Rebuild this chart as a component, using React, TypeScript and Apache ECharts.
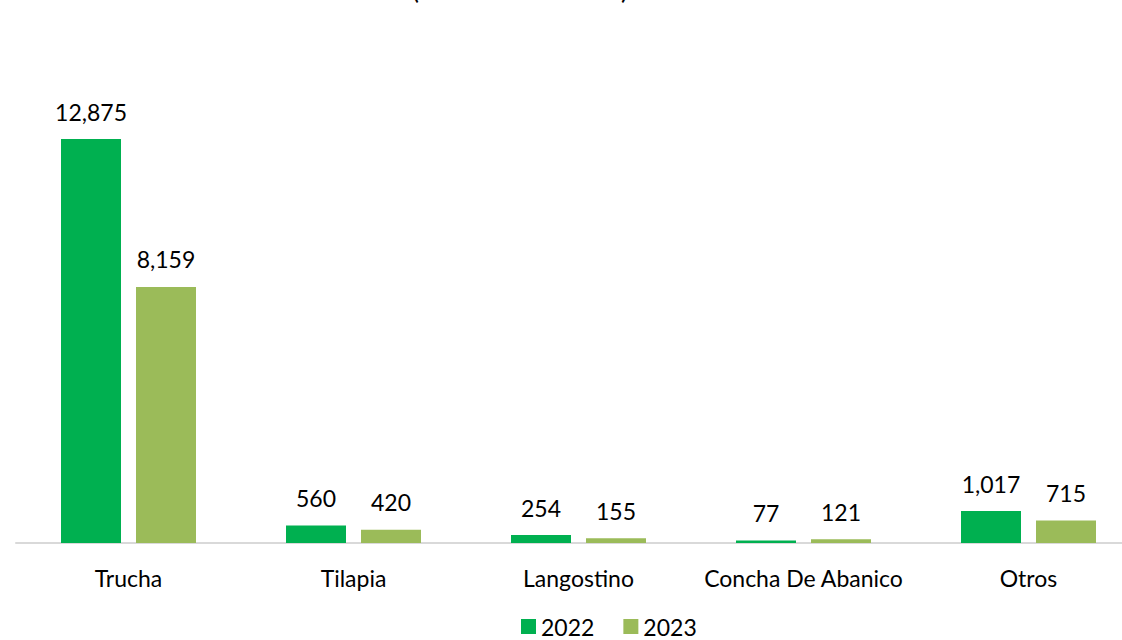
import React, { useEffect, useRef } from "react";
import * as echarts from "echarts";

const categories = ["Trucha", "Tilapia", "Langostino", "Concha De Abanico", "Otros"];
const values2022 = [12875, 560, 254, 77, 1017];
const values2023 = [8159, 420, 155, 121, 715];
const seriesNames = ["2022", "2023"];

const FONT = "Lato, 'Open Sans', sans-serif";

export default function App() {
  const ref = useRef<HTMLDivElement>(null);
  useEffect(() => {
    const chart = echarts.init(ref.current!, null, { renderer: "svg" });
    const label = {
      show: true,
      position: "top",
      distance: 16,
      color: "#000",
      fontSize: 23,
      fontFamily: FONT,
      formatter: (p: any) => Number(p.value).toLocaleString("en-US"),
    };
    chart.setOption({
      animation: false,
      backgroundColor: "#fff",
      grid: { left: 16, top: 103.7, width: 1125, height: 439.3, containLabel: false },
      legend: {
        top: 610,
        left: 516,
        itemWidth: 15,
        itemHeight: 15,
        itemGap: 29,
        icon: "rect",
        textStyle: { fontSize: 23, fontFamily: FONT, color: "#000" },
        data: seriesNames,
      },
      xAxis: {
        type: "category",
        data: categories,
        axisLine: { lineStyle: { color: "#d9d9d9", width: 2 } },
        axisTick: { show: false },
        axisLabel: { color: "#000", fontSize: 23, fontFamily: FONT, margin: 23, interval: 0 },
      },
      yAxis: {
        type: "value",
        min: 0,
        max: 14000,
        show: false,
        splitLine: { show: false },
      },
      series: [
        {
          name: seriesNames[0],
          type: "bar",
          data: values2022,
          barWidth: 60,
          barGap: "25%",
          itemStyle: { color: "#00b050" },
          label,
        },
        {
          name: seriesNames[1],
          type: "bar",
          data: values2023,
          barWidth: 60,
          itemStyle: { color: "#9bbb59" },
          label,
        },
      ],
      graphic: [
        { type: "text", left: 412, top: -24, style: { text: "(", fontSize: 26, fontFamily: FONT, fill: "#000" } },
        { type: "text", left: 621, top: -24, style: { text: ")", fontSize: 26, fontFamily: FONT, fill: "#000" } },
      ],
    });
    return () => chart.dispose();
  }, []);
  return (
    <div
      style={{ position: "fixed", left: 0, top: 0, width: 1122, height: 640, overflow: "hidden" }}
    >
      <div ref={ref} style={{ width: 1145, height: 640 }} />
    </div>
  );
}
